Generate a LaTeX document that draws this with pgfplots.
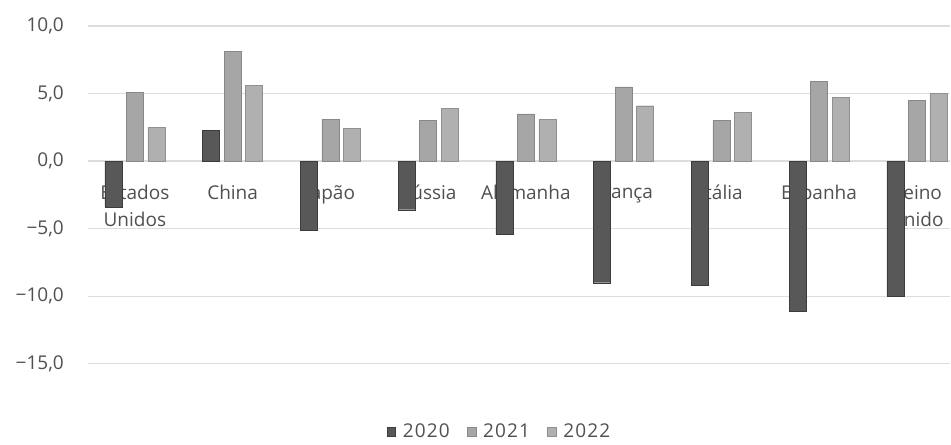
\documentclass[border=0pt]{standalone}
\usepackage{fontspec}
\setmainfont{Open Sans}
\usepackage{pgfplots}
\pgfplotsset{compat=1.18}
\definecolor{txt}{HTML}{505050}
\definecolor{gridc}{HTML}{DDDDDD}
\definecolor{cA}{HTML}{585858}
\definecolor{cAe}{HTML}{3C3C3C}
\definecolor{cB}{HTML}{A6A6A6}
\definecolor{cBe}{HTML}{888888}
\definecolor{cC}{HTML}{B0B0B0}
\definecolor{cCe}{HTML}{909090}
\pgfplotsset{sqlegend/.style={legend image code/.code={\draw[##1] (0pt,-4.5pt) rectangle (9pt,4.5pt); \path (14pt,0pt);}}}
\begin{document}
\begin{tikzpicture}
\begin{axis}[
  set layers,
  at={(88pt,81pt)}, anchor=south west,
  scale only axis, width=863pt, height=338pt,
  xmin=-0.48, xmax=8.344, ymin=-15, ymax=10,
  ybar=4.5pt, bar width=17pt,
  xtick={0,...,8},
  xticklabels={{Estados\\Unidos},China,Japão,Rússia,Alemanha,França,Itália,Espanha,{Reino\\Unido}},
  ytick={-15,-10,-5,0,5,10},
  yticklabels={{−15,0},{−10,0},{−5,0},{0,0},{5,0},{10,0}},
  ymajorgrids, grid style={draw=gridc, line width=1.2pt},
  axis line style={draw=none}, major tick length=0pt,
  tick label style={font=\fontsize{19}{27}\selectfont, text=txt},
  xticklabel style={align=center, anchor=north, inner sep=0pt, yshift=178.8pt},
  yticklabel style={anchor=east, inner sep=0pt, xshift=-24pt},
  legend style={at={(0.477,-0.201)}, anchor=center, draw=none, fill=none,
    font=\fontsize{19}{22}\selectfont\addfontfeatures{LetterSpace=6}, text=txt,
    /tikz/every even column/.append style={column sep=15pt}},
  legend columns=3,
]
\addplot[fill=cA, draw=cAe, sqlegend] coordinates {(0,-3.4) (1,2.3) (2,-5.1) (3,-3.6) (4,-5.4) (5,-9.0) (6,-9.2) (7,-11.1) (8,-10.0)};
\addplot[fill=cB, draw=cBe, sqlegend] coordinates {(0,5.1) (1,8.1) (2,3.1) (3,3.0) (4,3.5) (5,5.5) (6,3.0) (7,5.9) (8,4.5)};
\addplot[fill=cC, draw=cCe, sqlegend] coordinates {(0,2.5) (1,5.6) (2,2.4) (3,3.9) (4,3.1) (5,4.1) (6,3.6) (7,4.7) (8,5.0)};
\legend{2020,2021,2022}
\end{axis}
\path (0,0) rectangle (951pt,445pt);
\end{tikzpicture}
\end{document}
